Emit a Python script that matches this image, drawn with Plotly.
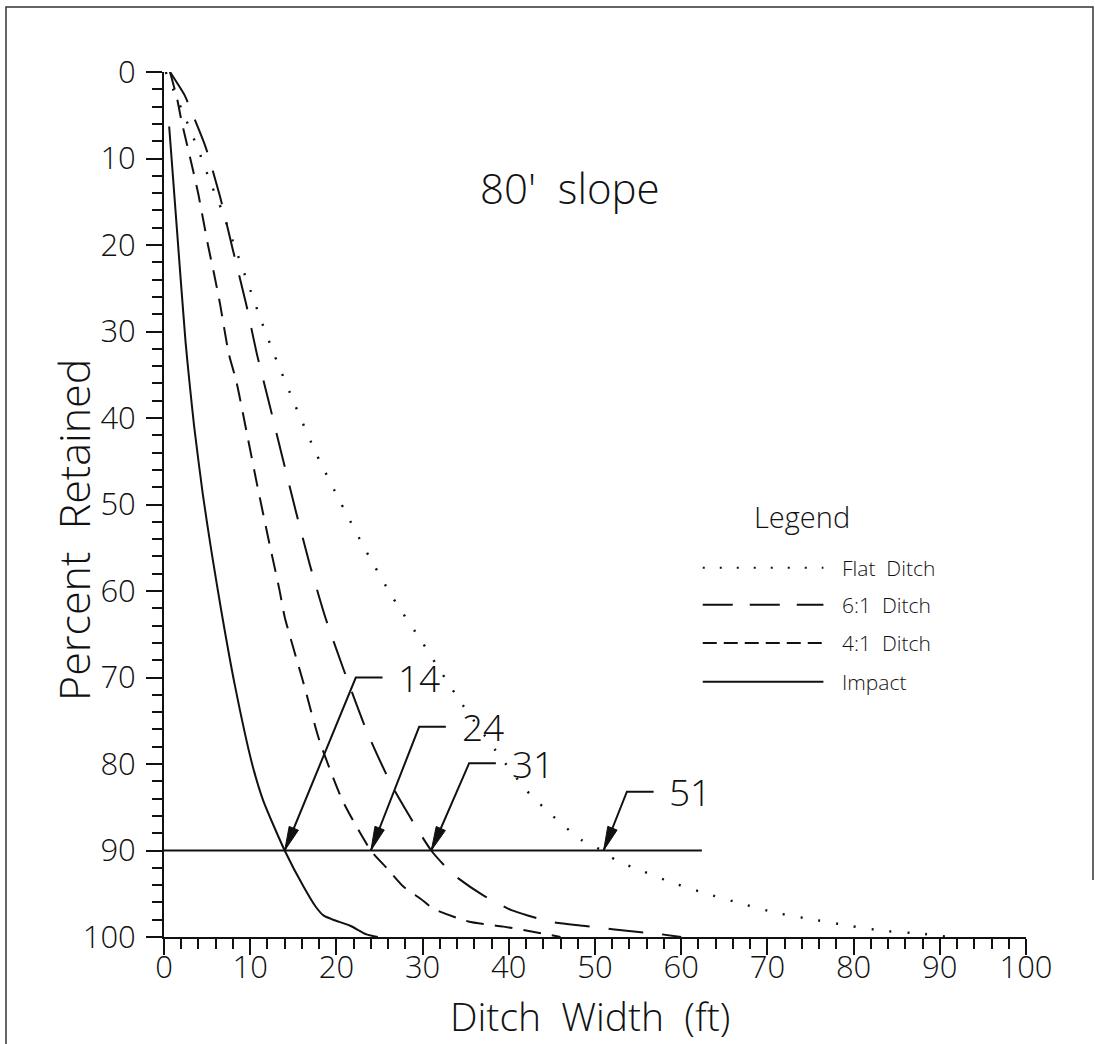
import plotly.graph_objects as go

# ---------------- data ----------------
impact_x = [0.6, 1.5, 2.5, 3.0, 3.5, 4.5, 5.5, 6.7, 8.2, 10.2, 11.5, 14.0, 16.2, 17.6, 18.5, 19.6, 21.6, 23.5, 24.8]
impact_y = [6.3, 18.2, 31.2, 36.3, 41.0, 48.8, 55.4, 62.6, 70.8, 79.9, 84.2, 90.0, 94.2, 96.5, 97.5, 98.0, 98.7, 99.7, 100.0]

ditch41_x = [0.7, 1.5, 2.0, 2.6, 3.4, 4.0, 5.1, 5.8, 6.5, 7.5, 8.4, 9.7, 10.8, 12.1, 13.4, 14.0, 16.2, 18.0, 20.7, 24.0,
             26.0, 27.8, 29.8, 31.2, 35.3, 39.4, 43.4, 46.0]
ditch41_y = [0.0, 3.0, 5.5, 8.1, 11.5, 14.2, 20.0, 23.3, 26.8, 32.5, 35.8, 42.2, 47.7, 53.9, 59.9, 63.0, 70.7, 77.2, 84.2, 90.0,
             92.2, 94.2, 95.6, 96.7, 98.2, 98.8, 99.5, 100.0]

ditch61_x = [0.7, 2.4, 3.2, 4.8, 6.5, 8.0, 9.5, 10.8, 12.3, 13.8, 15.3, 16.9, 18.7, 20.7, 23.6, 26.5, 31.0, 33.6, 36.9,
             40.3, 42.5, 44.6, 48.6, 52.0, 54.8, 57.0, 60.0]
ditch61_y = [0.0, 2.7, 4.6, 8.6, 14.4, 20.6, 26.7, 32.7, 38.7, 44.8, 50.8, 56.9, 63.0, 68.7, 76.4, 82.6, 90.0, 92.8, 95.1,
             96.9, 97.6, 98.2, 98.7, 99.1, 99.4, 99.6, 100.0]

flat_x = [0.2, 2.55, 4.1, 5.6, 6.4, 8.5, 9.9, 11.3, 12.8, 15.2, 17.7, 20.5, 23.4, 26.5, 30.0, 32.3, 34.6, 38.3, 42.1,
          45.1, 48.3, 50.8, 52.4, 55.3, 59.2, 63.3, 67.2, 71.0, 75.4, 79.5, 83.6, 87.8, 91.0]
flat_y = [0.0, 5.5, 9.3, 13.3, 15.2, 21.0, 24.9, 28.8, 32.7, 38.5, 44.2, 49.8, 55.3, 60.7, 66.0, 69.6, 73.1, 78.2, 83.1,
          86.0, 88.7, 90.0, 91.1, 92.3, 93.8, 95.1, 96.2, 97.2, 98.0, 98.7, 99.3, 99.6, 100.0]

retained_level = 90
level_line_end = 62.4
crossings = [14, 24, 31, 51]
crossing_labels = ["14", "24", "31", "51"]

x_ticks = list(range(0, 101, 10))
y_ticks = list(range(0, 101, 10))

legend_names = ["Flat\u00a0 Ditch", "6:1\u00a0 Ditch", "4:1\u00a0 Ditch", "Impact"]

# ---------------- layout constants ----------------
W, H = 1095, 1044
ML, MR, MT, MB = 164, 69, 72, 107
PW, PH = W - ML - MR, H - MT - MB
PXX = PW / 100.0
PXY = PH / 100.0
FONT = "Open Sans"
WEIGHT = 300
INK = "#111111"

def fnt(size):
    return dict(family=FONT, size=size, color=INK, weight=WEIGHT)

# leader corner positions (data coords) for each callout
leader_corner = [(22.25, 70.0), (29.6, 75.7), (35.4, 79.9), (53.7, 83.2)]
leader_len = 3.1

styles = {
    "flat": dict(color=INK, width=2.4, dash="2px,16px"),
    "61": dict(color=INK, width=2, dash="35px,19px"),
    "41": dict(color=INK, width=2, dash="18px,11px"),
    "impact": dict(color=INK, width=2),
}

fig = go.Figure()

fig.add_trace(go.Scatter(x=flat_x, y=flat_y, mode="lines", line=dict(**styles["flat"], shape="spline", smoothing=0.6), showlegend=False))
fig.add_trace(go.Scatter(x=ditch61_x, y=ditch61_y, mode="lines", line=dict(**styles["61"], shape="spline", smoothing=0.6), showlegend=False))
fig.add_trace(go.Scatter(x=ditch41_x, y=ditch41_y, mode="lines", line=dict(**styles["41"], shape="spline", smoothing=0.6), showlegend=False))
fig.add_trace(go.Scatter(x=impact_x, y=impact_y, mode="lines", line=dict(**styles["impact"], shape="spline", smoothing=0.6), showlegend=False))

# 90% level line
fig.add_trace(go.Scatter(x=[0, level_line_end], y=[retained_level, retained_level], mode="lines",
                         line=dict(color=INK, width=2), showlegend=False))

annotations = []
# callouts
HEAD_L, HEAD_W = 24, 10
for cx_val, lab, (kx, ky) in zip(crossings, crossing_labels, leader_corner):
    ex = kx + leader_len
    fig.add_trace(go.Scatter(x=[cx_val, kx, ex], y=[retained_level, ky, ky], mode="lines",
                             line=dict(color=INK, width=2), showlegend=False))
    # arrowhead polygon computed in pixel space
    dxp = (kx - cx_val) * PXX
    dyp = (ky - retained_level) * PXY
    n = (dxp ** 2 + dyp ** 2) ** 0.5
    ux, uy = dxp / n, dyp / n
    bx, by = ux * HEAD_L, uy * HEAD_L
    nx, ny = -uy * HEAD_W / 2, ux * HEAD_W / 2
    px = [0, bx + nx, bx - nx, 0]
    py = [0, by + ny, by - ny, 0]
    fig.add_trace(go.Scatter(x=[cx_val + p / PXX for p in px], y=[retained_level + q / PXY for q in py],
                             mode="lines", fill="toself", fillcolor=INK, line=dict(color=INK, width=1),
                             showlegend=False))
    annotations.append(dict(x=ex + 1.6, y=ky, xref="x", yref="y", text=lab, showarrow=False,
                            xanchor="left", yanchor="middle", font=fnt(37)))

# title-like text
annotations.append(dict(x=47.1, y=13.3, xref="x", yref="y", text="80'\u00a0 slope", showarrow=False,
                        xanchor="center", yanchor="middle", font=fnt(42)))

# legend (drawn manually)
annotations.append(dict(x=74.0, y=51.4, xref="x", yref="y", text="Legend", showarrow=False,
                        xanchor="center", yanchor="middle", font=fnt(29)))
legend_rows = [57.3, 61.6, 66.0, 70.5]
legend_dash = ["2px,15px", "30px,17px", "14px,7px", "solid"]
shapes = []
for name, ry, dsh in zip(legend_names, legend_rows, legend_dash):
    shapes.append(dict(type="line", xref="x", yref="y", x0=62.5, x1=76.5, y0=ry, y1=ry,
                       line=dict(color=INK, width=2, dash=dsh)))
    annotations.append(dict(x=78.4, y=ry, xref="x", yref="y", text=name, showarrow=False,
                            xanchor="left", yanchor="middle", font=fnt(21)))

# axis titles
annotations.append(dict(x=(73 - ML) / PW, y=(MT + PH - 530) / PH, xref="paper", yref="paper",
                        text="Percent\u00a0 Retained", textangle=-90, showarrow=False,
                        xanchor="center", yanchor="middle", font=fnt(43)))
annotations.append(dict(x=(590 - ML) / PW, y=(MT + PH - 1015) / PH, xref="paper", yref="paper",
                        text="Ditch\u00a0 Width\u00a0 (ft)", showarrow=False,
                        xanchor="center", yanchor="middle", font=fnt(39)))

# page border
bl = (6 - ML) / PW
br = (1093 - ML) / PW
bt = 1 + (MT - 7) / PH
bb = (MT + PH - H) / PH
shapes.append(dict(type="path", xref="paper", yref="paper",
                   path=f"M{bl},{bb} L{bl},{bt} L{br},{bt} L{br},{(MT + PH - 880) / PH}",
                   line=dict(color="#333333", width=1.5)))

axis_common = dict(showgrid=False, zeroline=False, showline=True, linecolor=INK, linewidth=2,
                   ticks="outside", ticklen=16, tickwidth=2, tickcolor=INK,
                   tickfont=fnt(31),
                   minor=dict(dtick=2, tick0=0, ticks="outside", ticklen=10, tickwidth=1.5, tickcolor=INK, showgrid=False))

fig.update_layout(
    width=W, height=H,
    margin=dict(l=ML, r=MR, t=MT, b=MB),
    paper_bgcolor="white", plot_bgcolor="white",
    showlegend=False,
    xaxis=dict(range=[0, 100], tickmode="array", tickvals=x_ticks, ticktext=[str(v) for v in x_ticks],
               ticklabelstandoff=-14, **axis_common),
    yaxis=dict(range=[100, 0], tickmode="array", tickvals=y_ticks, ticktext=[str(v) for v in y_ticks],
               ticklabelstandoff=4, **axis_common),
    annotations=annotations,
    shapes=shapes,
)

fig.write_html("out.html", config={"displayModeBar": False},
               post_script="document.body.style.margin='0';document.body.style.overflow='hidden';")
